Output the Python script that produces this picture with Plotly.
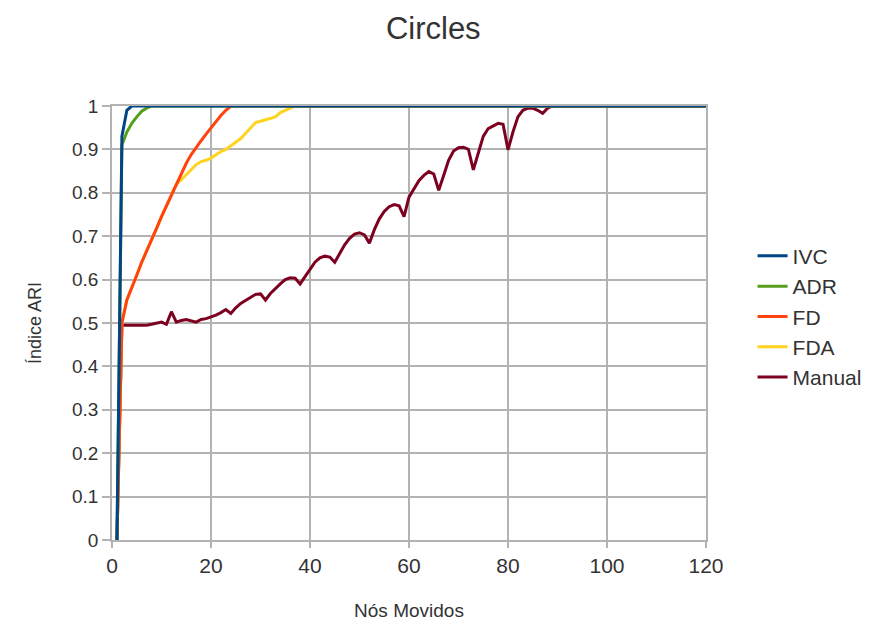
import plotly.graph_objects as go

# Nodes moved (x) and ARI index (y) for each method
ivc_x = [1, 2, 3, 4, 120]
ivc_y = [0.0, 0.93, 0.99, 1.0, 1.0]

adr_x = [1, 2, 3, 4, 5, 6, 7, 8, 120]
adr_y = [0.0, 0.91, 0.94, 0.96, 0.975, 0.988, 0.995, 1.0, 1.0]

fd_x = list(range(1, 25)) + [120]
fd_y = [0.0, 0.5, 0.553, 0.58, 0.61, 0.64, 0.665, 0.69, 0.718, 0.745, 0.77,
        0.795, 0.82, 0.845, 0.868, 0.888, 0.905, 0.92, 0.935, 0.95, 0.965,
        0.978, 0.99, 1.0, 1.0]

fda_x = list(range(1, 38)) + [120]
fda_y = [0.0, 0.5, 0.553, 0.58, 0.61, 0.64, 0.665, 0.69, 0.718, 0.745, 0.77,
         0.795, 0.82, 0.83, 0.842, 0.855, 0.865, 0.872, 0.875, 0.88, 0.888,
         0.895, 0.9, 0.908, 0.915, 0.925, 0.937, 0.95, 0.962, 0.965, 0.968,
         0.972, 0.975, 0.985, 0.99, 0.995, 1.0, 1.0]

manual_x = list(range(1, 90)) + [120]
manual_y = [0.0, 0.495, 0.495, 0.495, 0.495, 0.495, 0.495, 0.497, 0.5, 0.502,
            0.497, 0.526, 0.502, 0.506, 0.508, 0.505, 0.502, 0.508, 0.51, 0.514,
            0.518, 0.524, 0.531, 0.522, 0.535, 0.545, 0.552, 0.56, 0.566, 0.567,
            0.553, 0.568, 0.58, 0.59, 0.6, 0.604, 0.603, 0.59, 0.607, 0.625,
            0.64, 0.65, 0.654, 0.652, 0.64, 0.66, 0.68, 0.695, 0.705, 0.708,
            0.703, 0.684, 0.715, 0.74, 0.757, 0.768, 0.773, 0.77, 0.745, 0.79,
            0.81, 0.828, 0.84, 0.849, 0.843, 0.806, 0.84, 0.875, 0.896, 0.904,
            0.905, 0.9, 0.853, 0.89, 0.93, 0.948, 0.955, 0.96, 0.958, 0.899,
            0.94, 0.975, 0.99, 0.995, 0.995, 0.99, 0.983, 0.995, 1.0, 1.0]

series = [
    ("IVC", ivc_x, ivc_y, "#004586"),
    ("ADR", adr_x, adr_y, "#579d1c"),
    ("FD", fd_x, fd_y, "#ff420e"),
    ("FDA", fda_x, fda_y, "#ffd320"),
    ("Manual", manual_x, manual_y, "#7e0021"),
]

fig = go.Figure()
# draw in reverse so IVC ends up on top, keep legend order
for i, (name, xs, ys, color) in reversed(list(enumerate(series))):
    fig.add_trace(go.Scatter(
        x=xs, y=ys, mode="lines", name=name,
        line=dict(color=color, width=3),
        legendrank=i + 1,
    ))

grid = "#b3b3b3"
font = "Liberation Sans, Arial, sans-serif"
text_color = "#333333"

fig.update_layout(
    width=870, height=621,
    margin=dict(l=112, r=164, t=106, b=81, autoexpand=False),
    paper_bgcolor="white", plot_bgcolor="white",
    font=dict(family=font, color=text_color),
    title=dict(text="Circles", x=0.498, xanchor="center", y=0.955, yanchor="middle",
               font=dict(size=31, color=text_color)),
    showlegend=True,
    legend=dict(xref="container", yref="container", x=0.865, xanchor="left",
                y=0.49, yanchor="middle",
                font=dict(size=21, color=text_color),
                tracegroupgap=0, itemwidth=30, traceorder="normal"),
    xaxis=dict(range=[0, 120], dtick=20, showgrid=True, gridcolor=grid, gridwidth=1.5,
               zeroline=False, showline=True, linecolor=grid, linewidth=1.5, mirror=True,
               ticks="outside", ticklen=6, tickcolor=grid, tickwidth=1.5,
               tickfont=dict(size=21, color=text_color),
               title=dict(text="Nós Movidos", font=dict(size=19, color=text_color), standoff=28)),
    yaxis=dict(range=[0, 1], dtick=0.1, showgrid=True, gridcolor=grid, gridwidth=1.5,
               zeroline=False, showline=True, linecolor=grid, linewidth=1.5, mirror=True,
               ticks="outside", ticklen=8, tickcolor=grid, tickwidth=1.5,
               tickfont=dict(size=19, color=text_color),
               title=dict(text="Índice ARI", font=dict(size=18, color=text_color), standoff=26)),
)

fig.write_html("out.html")
